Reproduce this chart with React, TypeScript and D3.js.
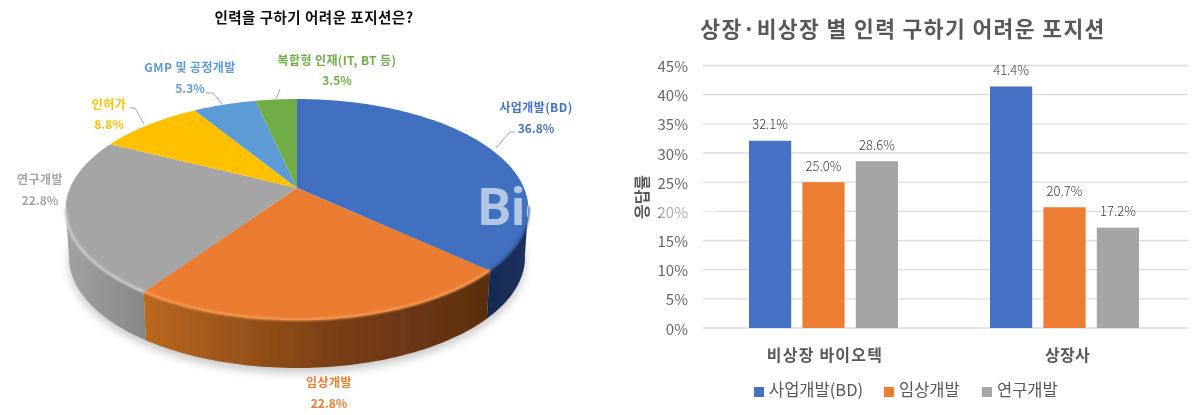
import React from "react";
import * as d3 from "d3";

const pieTitle = "인력을 구하기 어려운 포지션은?";
const pieCategories = ["사업개발(BD)", "임상개발", "연구개발", "인허가", "GMP 및 공정개발", "복합형 인재(IT, BT 등)"];
const pieValues = [36.8, 22.8, 22.8, 8.8, 5.3, 3.5];
const pieColors = ["#4270c0", "#ea7b30", "#a5a5a5", "#ffc000", "#5b9bd5", "#70ad47"];
const pieLabelColors = ["#4472c4", "#ed7d31", "#a5a5a5", "#ffc000", "#5b9bd5", "#70ad47"];

const barTitle = "상장·비상장 별 인력 구하기 어려운 포지션";
const barGroups = ["비상장 바이오텍", "상장사"];
const barSeries = ["사업개발(BD)", "임상개발", "연구개발"];
const barColors = ["#4472c4", "#ed7d31", "#a5a5a5"];
const nonListed = [32.1, 25.0, 28.6];
const listed = [41.4, 20.7, 17.2];
const barTicks = [0, 5, 10, 15, 20, 25, 30, 35, 40, 45];

const FONT = "'Noto Sans CJK KR', 'Noto Sans', sans-serif";

// Perspective projection of the pie disk onto the page
const CX = 297, CY = 188, BX = 227, AY = 106.3, K = 0.1945, DEPTH = 48;
const top = (t: number): [number, number] => {
  const u = Math.sin(t), v = Math.cos(t), w = 1 + K * v;
  return [CX + (BX * u) / w, CY - (AY * v) / w];
};
const bot = (t: number): [number, number] => {
  const [x, y] = top(t);
  return [CX + (x - CX) * 0.985, y + DEPTH];
};
const samples = (a: number, b: number) => {
  const n = Math.max(2, Math.ceil((b - a) / 0.02));
  return d3.range(n + 1).map((i) => a + ((b - a) * i) / n);
};
const line = d3.line();
const slices = d3.pie<number>().sort(null).value((d) => d)(pieValues);
const VIS0 = (100 * Math.PI) / 180, VIS1 = (259 * Math.PI) / 180;

const pieLabelPos: [number, number, number, number][] = [
  [536, 106.5, 536, 127.5],
  [329, 381.5, 329, 402.5],
  [40, 178.5, 40, 199.5],
  [109, 103.5, 109, 123.5],
  [190, 66.5, 190, 87.5],
  [337, 59.5, 337, 79.5],
];
const leaders: [number, number][][] = [
  [[515, 132], [510, 132], [496, 148]],
  [[130, 108], [135, 108], [144, 124]],
  [[206, 93], [213, 93], [222, 104]],
  [[280, 89], [276, 99]],
];

const y = d3.scaleLinear().domain([0, 45]).range([328, 65.5]);
const x0 = d3.scaleBand<string>().domain(barGroups).range([703, 1185]);
const x1 = d3.scaleBand<string>().domain(barSeries).range([-74.5, 74.5]).paddingInner(0.21);
const barData = [nonListed, listed];
const legendX = [754, 884, 982];

export default function App() {
  const walls = slices
    .map((s, i) => ({ i, a: Math.max(s.startAngle, VIS0), b: Math.min(s.endAngle, VIS1) }))
    .filter((s) => s.b > s.a);
  return (
    <svg
      width={1199}
      height={415}
      style={{ position: "absolute", left: 0, top: 0, background: "#fff", fontFamily: FONT }}
    >
      <defs>
        <filter id="shadow" x="-20%" y="-20%" width="140%" height="140%">
          <feGaussianBlur stdDeviation="5" />
        </filter>
        <filter id="soft" x="-10%" y="-10%" width="120%" height="120%">
          <feGaussianBlur stdDeviation="1" />
        </filter>
        <filter id="photo" x="0" y="0" width="100%" height="100%">
          <feGaussianBlur stdDeviation="0.35" />
        </filter>
        <linearGradient id="wall2" gradientUnits="userSpaceOnUse" x1={66} x2={148} y1={0} y2={0}>
          <stop offset="0" stopColor="#a2a2a2" />
          <stop offset="1" stopColor="#858585" />
        </linearGradient>
        <linearGradient id="wall1" gradientUnits="userSpaceOnUse" x1={146} x2={486} y1={0} y2={0}>
          <stop offset="0" stopColor="#b9671f" />
          <stop offset="0.55" stopColor="#7a3f15" />
          <stop offset="1" stopColor="#5c2e10" />
        </linearGradient>
        <linearGradient id="wall0" gradientUnits="userSpaceOnUse" x1={486} x2={532} y1={0} y2={0}>
          <stop offset="0" stopColor="#182b52" />
          <stop offset="1" stopColor="#1c3160" />
        </linearGradient>
        <clipPath id="pieClip">
          <path d={(line(samples(0, 2 * Math.PI).map(top)) as string) + "Z"} />
        </clipPath>
      </defs>

      <g filter="url(#photo)">
        <rect x={0} y={0} width={1199} height={415} fill="#fff" />
        {/* pie chart */}
        <text x={314} y={23} textAnchor="middle" fontSize={14.5} fontWeight={700} fill="#111" letterSpacing={0.5}>
          {pieTitle}
        </text>
        <path
          d={(line(samples(VIS0 - 0.4, VIS1 + 0.4).map(bot)) as string) + "Z"}
          transform="translate(0,5)"
          fill="#000"
          opacity={0.22}
          filter="url(#shadow)"
        />
        {walls.map(({ i, a, b }) => (
          <path
            key={i}
            d={(line([...samples(a, b).map(top), ...samples(a, b).reverse().map(bot)]) as string) + "Z"}
            fill={`url(#wall${i})`}
          />
        ))}
        {slices.map((s, i) => (
          <path
            key={i}
            d={(line([[CX, CY], ...samples(s.startAngle, s.endAngle).map(top)]) as string) + "Z"}
            fill={pieColors[i]}
          />
        ))}
        {walls.map(({ i, a, b }) => (
          <path
            key={i}
            d={line(samples(a, b).map(top).map(([px, py]) => [px, py - 0.5] as [number, number])) as string}
            fill="none"
            stroke={i === 1 ? "#f79a52" : i === 2 ? "#cfcfcf" : "#37599c"}
            strokeWidth={2.5}
            filter="url(#soft)"
          />
        ))}
        <text
          x={478}
          y={225}
          fontFamily="Roboto, sans-serif"
          fontWeight={700}
          fontSize={52}
          fill="#fff"
          fillOpacity={0.6}
          clipPath="url(#pieClip)"
        >
          Bio
        </text>
        {leaders.map((pts, i) => (
          <path key={i} d={line(pts) as string} fill="none" stroke="#a6a6a6" strokeWidth={1} />
        ))}
        {pieCategories.map((c, i) => {
          const [xa, ya, xb, yb] = pieLabelPos[i];
          return (
            <g key={c} fill={pieLabelColors[i]} fontSize={12} fontWeight={700} textAnchor="middle" dominantBaseline="central">
              <text x={xa} y={ya} letterSpacing={0.4}>{c}</text>
              <text x={xb} y={yb}>{pieValues[i].toFixed(1)}%</text>
            </g>
          );
        })}

        {/* bar chart */}
        <text x={903} y={37} textAnchor="middle" fontSize={21.5} fontWeight={700} fill="#595959" letterSpacing={1.4}>
          {barTitle}
        </text>
        <text
          transform="translate(641,197) rotate(-90)"
          textAnchor="middle"
          dominantBaseline="central"
          fontSize={16}
          fontWeight={700}
          fill="#595959"
        >
          응답률
        </text>
        {barTicks.map((t) => (
          <g key={t}>
            <line x1={703} x2={1188} y1={y(t)} y2={y(t)} stroke="#dcdcdc" strokeWidth={1.3} />
            <text x={688} y={y(t)} textAnchor="end" dominantBaseline="central" fontSize={15} fill="#666">
              {t}%
            </text>
          </g>
        ))}
        <rect x={660} y={y(20) - 9} width={56} height={18} fill="#fff" opacity={0.45} />
        {barGroups.map((g, gi) => (
          <g key={g} transform={`translate(${(x0(g) as number) + x0.bandwidth() / 2},0)`}>
            {barSeries.map((s, si) => {
              const v = barData[gi][si];
              const bx = x1(s) as number;
              return (
                <g key={s}>
                  <rect x={bx} y={y(v)} width={x1.bandwidth()} height={y(0) - y(v)} fill={barColors[si]} />
                  <text
                    x={bx + x1.bandwidth() / 2}
                    y={y(v) - 17}
                    textAnchor="middle"
                    dominantBaseline="central"
                    fontSize={13}
                    fontWeight={300}
                    fill="#404040"
                  >
                    {v.toFixed(1)}%
                  </text>
                </g>
              );
            })}
            <text
              x={gi === 0 ? 1.5 : 3}
              y={353.5}
              textAnchor="middle"
              dominantBaseline="central"
              fontSize={16}
              fontWeight={700}
              fill="#595959"
              letterSpacing={gi === 0 ? 1.2 : 0.3}
            >
              {g}
            </text>
          </g>
        ))}
        {barSeries.map((s, i) => (
          <g key={s}>
            <rect x={legendX[i]} y={387} width={10} height={10} fill={barColors[i]} />
            <text x={legendX[i] + 15} y={389} dominantBaseline="central" fontSize={16.5} fill="#595959">
              {s}
            </text>
          </g>
        ))}
      </g>
    </svg>
  );
}
